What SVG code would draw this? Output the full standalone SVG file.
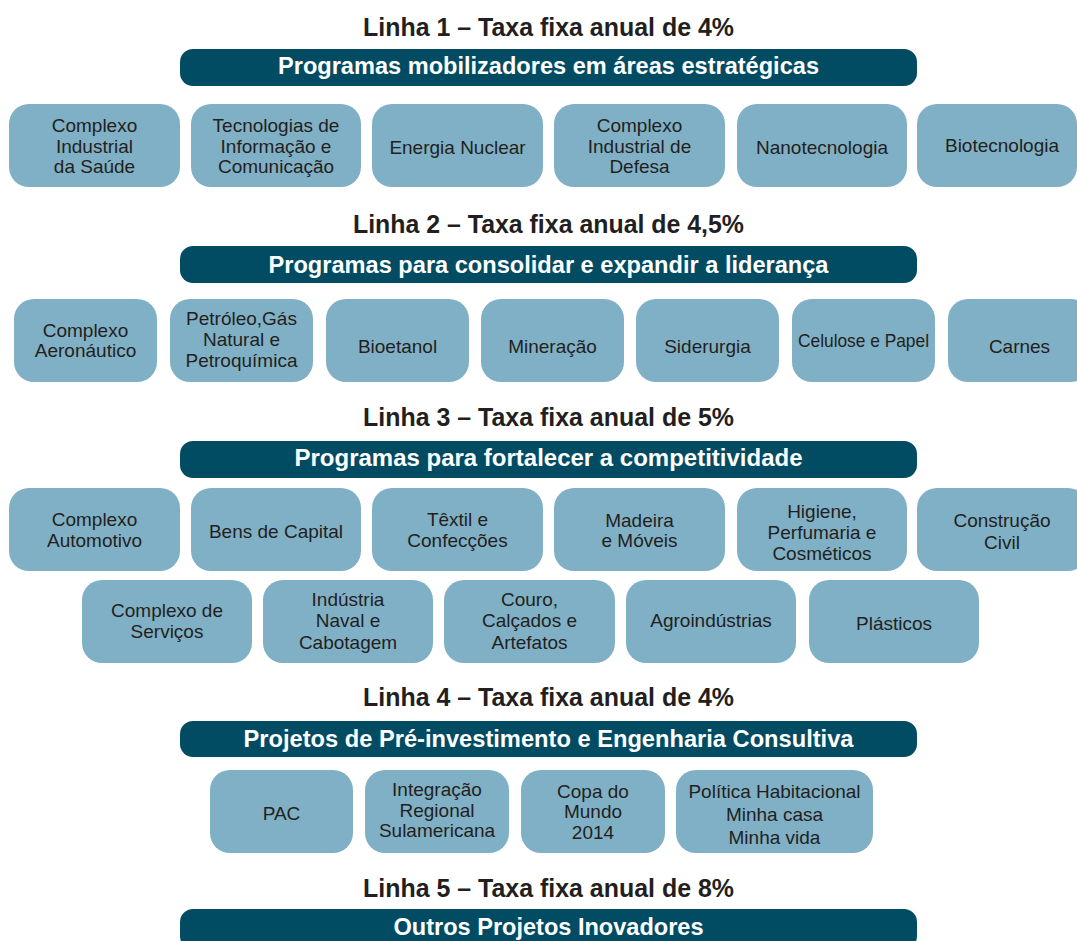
<svg xmlns="http://www.w3.org/2000/svg" width="1077" height="941" viewBox="0 0 1077 941">
<style>
.bg{fill:#ffffff}
.bar{fill:#014b63}
.box{fill:#80b0c5}
.title{font-family:"Liberation Sans",Arial,sans-serif;font-size:26px;font-weight:bold;fill:#231f20;text-anchor:middle}
.bt{font-family:"Liberation Sans",Arial,sans-serif;font-size:23.5px;font-weight:bold;fill:#ffffff;text-anchor:middle}
.tx{font-family:"Liberation Sans",Arial,sans-serif;font-size:19px;fill:#231f20;text-anchor:middle}
</style>
<rect class="bg" x="0" y="0" width="1077" height="941"/>
<g id="connectors"/>

<g id="linha1">
<text class="title" x="548.5" y="36" textLength="371" lengthAdjust="spacingAndGlyphs">Linha 1 – Taxa fixa anual de 4%</text>
<rect class="bar" x="180" y="49" width="737" height="37" rx="13"/>
<text class="bt" x="548.5" y="74" textLength="541" lengthAdjust="spacingAndGlyphs">Programas mobilizadores em áreas estratégicas</text>
</g>
<g id="n1-1"><rect class="box" x="9" y="104" width="171" height="83" rx="20"/><text class="tx" x="94.5" y="132">Complexo</text><text class="tx" x="94.5" y="153">Industrial</text><text class="tx" x="94.5" y="173">da Saúde</text></g>
<g id="n1-2"><rect class="box" x="191" y="104" width="170" height="83" rx="20"/><text class="tx" x="276" y="132">Tecnologias de</text><text class="tx" x="276" y="153">Informação e</text><text class="tx" x="276" y="173">Comunicação</text></g>
<g id="n1-3"><rect class="box" x="372" y="104" width="171" height="83" rx="20"/><text class="tx" x="457.5" y="154">Energia Nuclear</text></g>
<g id="n1-4"><rect class="box" x="554" y="104" width="171" height="83" rx="20"/><text class="tx" x="639.5" y="132">Complexo</text><text class="tx" x="639.5" y="153">Industrial de</text><text class="tx" x="639.5" y="173">Defesa</text></g>
<g id="n1-5"><rect class="box" x="737" y="104" width="170" height="83" rx="20"/><text class="tx" x="822" y="154">Nanotecnologia</text></g>
<g id="n1-6"><rect class="box" x="917" y="104" width="160" height="83" rx="20"/><text class="tx" x="1002" y="152">Biotecnologia</text></g>

<g id="linha2">
<text class="title" x="548.5" y="233" textLength="391" lengthAdjust="spacingAndGlyphs">Linha 2 – Taxa fixa anual de 4,5%</text>
<rect class="bar" x="180" y="246" width="737" height="37" rx="13"/>
<text class="bt" x="548.5" y="273" textLength="560" lengthAdjust="spacingAndGlyphs">Programas para consolidar e expandir a liderança</text>
</g>
<g id="n2-1"><rect class="box" x="14" y="299" width="143" height="83" rx="20"/><text class="tx" x="85.5" y="337">Complexo</text><text class="tx" x="85.5" y="357">Aeronáutico</text></g>
<g id="n2-2"><rect class="box" x="170" y="299" width="143" height="83" rx="20"/><text class="tx" x="241.5" y="325">Petróleo,Gás</text><text class="tx" x="241.5" y="346">Natural e</text><text class="tx" x="241.5" y="367">Petroquímica</text></g>
<g id="n2-3"><rect class="box" x="326" y="299" width="143" height="83" rx="20"/><text class="tx" x="397.5" y="353">Bioetanol</text></g>
<g id="n2-4"><rect class="box" x="481" y="299" width="143" height="83" rx="20"/><text class="tx" x="552.5" y="353">Mineração</text></g>
<g id="n2-5"><rect class="box" x="636" y="299" width="143" height="83" rx="20"/><text class="tx" x="707.5" y="353">Siderurgia</text></g>
<g id="n2-6"><rect class="box" x="792" y="299" width="143" height="83" rx="20"/><text class="tx" x="863.5" y="347" textLength="131" lengthAdjust="spacingAndGlyphs">Celulose e Papel</text></g>
<g id="n2-7"><rect class="box" x="948" y="299" width="143" height="83" rx="20"/><text class="tx" x="1019.5" y="353">Carnes</text></g>

<g id="linha3">
<text class="title" x="548.5" y="426" textLength="371" lengthAdjust="spacingAndGlyphs">Linha 3 – Taxa fixa anual de 5%</text>
<rect class="bar" x="180" y="441" width="737" height="37" rx="13"/>
<text class="bt" x="548.5" y="466" textLength="508" lengthAdjust="spacingAndGlyphs">Programas para fortalecer a competitividade</text>
</g>
<g id="n3-1"><rect class="box" x="9" y="488" width="171" height="83" rx="20"/><text class="tx" x="94.5" y="526">Complexo</text><text class="tx" x="94.5" y="547">Automotivo</text></g>
<g id="n3-2"><rect class="box" x="191" y="488" width="170" height="83" rx="20"/><text class="tx" x="276" y="538">Bens de Capital</text></g>
<g id="n3-3"><rect class="box" x="372" y="488" width="171" height="83" rx="20"/><text class="tx" x="457.5" y="526">Têxtil e</text><text class="tx" x="457.5" y="547">Confecções</text></g>
<g id="n3-4"><rect class="box" x="554" y="488" width="171" height="83" rx="20"/><text class="tx" x="639.5" y="527">Madeira</text><text class="tx" x="639.5" y="547">e Móveis</text></g>
<g id="n3-5"><rect class="box" x="737" y="488" width="170" height="83" rx="20"/><text class="tx" x="822" y="518">Higiene,</text><text class="tx" x="822" y="539">Perfumaria e</text><text class="tx" x="822" y="560">Cosméticos</text></g>
<g id="n3-6"><rect class="box" x="917" y="488" width="171" height="83" rx="20"/><text class="tx" x="1002" y="527">Construção</text><text class="tx" x="1002" y="549">Civil</text></g>
<g id="n3-7"><rect class="box" x="82" y="580" width="170" height="83" rx="20"/><text class="tx" x="167" y="617">Complexo de</text><text class="tx" x="167" y="638">Serviços</text></g>
<g id="n3-8"><rect class="box" x="263" y="580" width="170" height="83" rx="20"/><text class="tx" x="348" y="606">Indústria</text><text class="tx" x="348" y="627">Naval e</text><text class="tx" x="348" y="649">Cabotagem</text></g>
<g id="n3-9"><rect class="box" x="444" y="580" width="171" height="83" rx="20"/><text class="tx" x="529.5" y="606">Couro,</text><text class="tx" x="529.5" y="627">Calçados e</text><text class="tx" x="529.5" y="649">Artefatos</text></g>
<g id="n3-10"><rect class="box" x="626" y="580" width="170" height="83" rx="20"/><text class="tx" x="711" y="627">Agroindústrias</text></g>
<g id="n3-11"><rect class="box" x="809" y="580" width="170" height="83" rx="20"/><text class="tx" x="894" y="630">Plásticos</text></g>

<g id="linha4">
<text class="title" x="548.5" y="706" textLength="371" lengthAdjust="spacingAndGlyphs">Linha 4 – Taxa fixa anual de 4%</text>
<rect class="bar" x="180" y="721" width="737" height="36" rx="13"/>
<text class="bt" x="548.5" y="747" textLength="610" lengthAdjust="spacingAndGlyphs">Projetos de Pré-investimento e Engenharia Consultiva</text>
</g>
<g id="n4-1"><rect class="box" x="210" y="770" width="143" height="83" rx="20"/><text class="tx" x="281.5" y="820">PAC</text></g>
<g id="n4-2"><rect class="box" x="365" y="770" width="144" height="83" rx="20"/><text class="tx" x="437" y="796">Integração</text><text class="tx" x="437" y="817">Regional</text><text class="tx" x="437" y="837">Sulamericana</text></g>
<g id="n4-3"><rect class="box" x="521" y="770" width="144" height="83" rx="20"/><text class="tx" x="593" y="798">Copa do</text><text class="tx" x="593" y="818">Mundo</text><text class="tx" x="593" y="839">2014</text></g>
<g id="n4-4"><rect class="box" x="676" y="770" width="197" height="83" rx="20"/><text class="tx" x="774.5" y="798">Política Habitacional</text><text class="tx" x="774.5" y="821">Minha casa</text><text class="tx" x="774.5" y="844">Minha vida</text></g>

<g id="linha5">
<text class="title" x="548.5" y="897" textLength="371" lengthAdjust="spacingAndGlyphs">Linha 5 – Taxa fixa anual de 8%</text>
<rect class="bar" x="180" y="909" width="737" height="40" rx="13"/>
<text class="bt" x="548.5" y="935" textLength="310" lengthAdjust="spacingAndGlyphs">Outros Projetos Inovadores</text>
</g>
</svg>
